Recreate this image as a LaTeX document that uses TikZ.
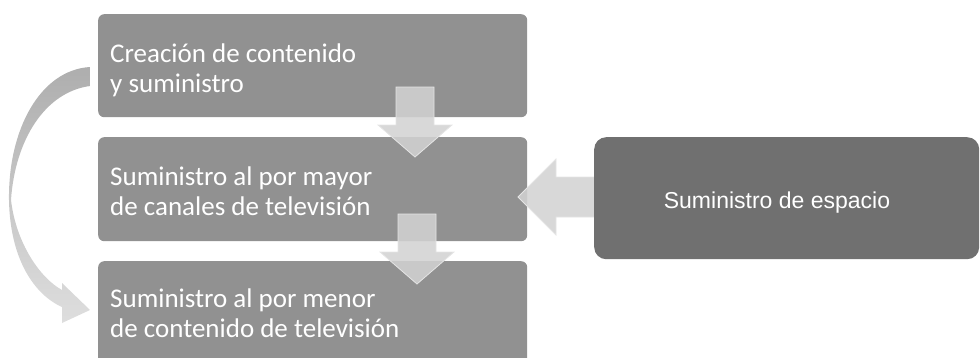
\documentclass[tikz,border=0pt]{standalone}
\usepackage{fontspec}
\setmainfont{Carlito}
\newfontfamily\arialfont{Liberation Sans}
\usepackage{xcolor}
\definecolor{boxgray}{RGB}{145,145,145}
\definecolor{darkbox}{RGB}{112,112,112}
\definecolor{arrowgray}{RGB}{210,210,210}
\definecolor{curvetop}{RGB}{174,174,174}
\definecolor{curvebottom}{RGB}{222,222,222}

\begin{document}
\begin{tikzpicture}[x=1pt,y=-1pt,
  stage/.style={rectangle,rounded corners=6pt,fill=boxgray,anchor=north west,minimum width=429pt,inner sep=0pt},
  stagetext/.style={anchor=base west,align=left,text=white,inner sep=0pt,font=\fontsize{27}{29.5}\selectfont},
  blockarrow/.style={fill=arrowgray,fill opacity=0.87,draw=white!90!black,line width=0.8pt}]
\clip (0,0) rectangle (980,357);
\node [stage,minimum height=103pt] (creacion) at (98,14) {};
\node [stage,minimum height=104pt] (mayor) at (98,137) {};
\node [stage,minimum height=130pt] (menor) at (98,261) {};
% arrow from the space box
\filldraw [blockarrow] (595,177) -- (556,177) -- (556,159) -- (518,197) -- (556,235) -- (556,217) -- (595,217) -- cycle;
\node [rectangle,rounded corners=12pt,fill=darkbox,anchor=north west,minimum width=385pt,minimum height=122pt] (espacio) at (594,137) {};
% downward arrows
\filldraw [blockarrow] (396,87) -- (434,87) -- (434,125) -- (452,125) -- (415,157) -- (378,125) -- (396,125) -- cycle;
\filldraw [blockarrow] (398,214) -- (436,214) -- (436,252) -- (454,252) -- (417,284) -- (380,252) -- (398,252) -- cycle;
% curved arrow on the left
\shade [top color=curvetop,bottom color=curvebottom]
  (90,67) .. controls (40,70) and (8,130) .. (9,200)
  .. controls (10,260) and (35,295) .. (62,307)
  -- (62,323) -- (90,310) -- (62,283) -- (62,290)
  .. controls (40,278) and (16,243) .. (11,200)
  .. controls (15,140) and (45,92) .. (90,86) -- cycle;
\node [stagetext] (creaciontext) at ([shift={(12,78)}]creacion.north west) {Creación de contenido\\y suministro};
\node [stagetext] (mayortext) at ([shift={(12,78)}]mayor.north west) {Suministro al por mayor\\de canales de televisión};
\node [stagetext] (menortext) at ([shift={(12,76)}]menor.north west) {Suministro al por menor\\de contenido de televisión};
\node [text=white,font=\arialfont\fontsize{23}{27}\selectfont,anchor=base] (espaciotext) at (777,208) {Suministro de espacio};
\end{tikzpicture}
\end{document}
